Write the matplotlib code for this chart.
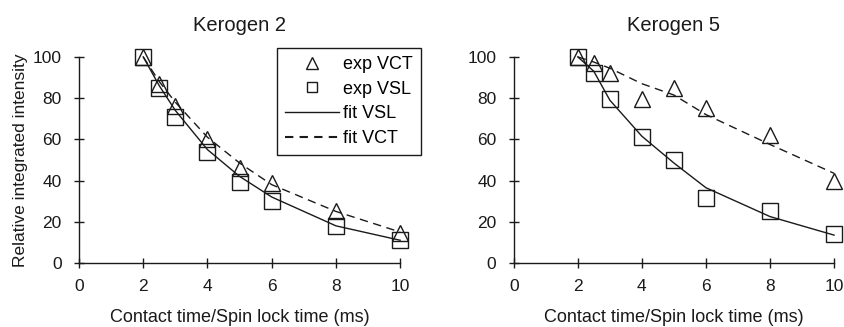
import matplotlib.pyplot as plt
from matplotlib.lines import Line2D

plt.rcParams['font.family'] = ['Liberation Sans', 'DejaVu Sans']

times = [2, 2.5, 3, 4, 5, 6, 8, 10]

# Kerogen 2
k2_exp_vct = [100, 87, 76, 60, 46, 39, 25, 14.5]
k2_exp_vsl = [100, 85, 71, 54, 39.5, 30, 18, 11]
k2_fit_vsl = [100, 86, 74, 55, 42, 32, 18, 11]
k2_fit_vct = [100, 88, 78, 61, 48.5, 38, 25, 15]

# Kerogen 5
k5_exp_vct = [100, 97, 92, 79.5, 85, 75, 62, 40]
k5_exp_vsl = [100, 92, 79.5, 61, 50, 31.5, 25, 14]
k5_fit_vsl = [100, 93, 79, 61.5, 48.5, 36.5, 22.5, 13.5]
k5_fit_vct = [100, 97.5, 94.5, 87, 81.5, 72, 57.5, 43.5]

ink = '#1a1a1a'

fig = plt.figure(figsize=(8.45, 3.27), dpi=100)
ax1 = fig.add_axes([0.0935, 0.196, 0.380, 0.630])
ax2 = fig.add_axes([0.608, 0.196, 0.379, 0.630])

panels = [
    (ax1, 'Kerogen 2', k2_exp_vct, k2_exp_vsl, k2_fit_vsl, k2_fit_vct),
    (ax2, 'Kerogen 5', k5_exp_vct, k5_exp_vsl, k5_fit_vsl, k5_fit_vct),
]

for ax, title, exp_vct, exp_vsl, fit_vsl, fit_vct in panels:
    ax.plot(times, fit_vsl, color=ink, lw=1.0, zorder=2, clip_on=False)
    ax.plot(times, fit_vct, color=ink, lw=1.0, dashes=(6, 4), zorder=2,
            clip_on=False)
    ax.plot(times, exp_vct, ls='none', marker='^', ms=12, mfc='none',
            mec=ink, mew=1.0, zorder=3, clip_on=False)
    ax.plot(times, exp_vsl, ls='none', marker='s', ms=11, mfc='none',
            mec=ink, mew=1.0, zorder=3, clip_on=False)
    ax.set_xlim(0, 10)
    ax.set_ylim(0, 100)
    ax.set_xticks([0, 2, 4, 6, 8, 10])
    ax.set_yticks([0, 20, 40, 60, 80, 100])
    for side in ['top', 'right']:
        ax.spines[side].set_visible(False)
    for side in ['left', 'bottom']:
        ax.spines[side].set_color(ink)
        ax.spines[side].set_linewidth(1.0)
    ax.tick_params(direction='inout', length=7, width=1.0, color=ink,
                   labelsize=12.5, labelcolor=ink)
    ax.tick_params(axis='x', pad=8)
    ax.tick_params(axis='y', pad=9)
    ax.set_title(title, fontsize=14.5, color=ink, pad=19)
    ax.set_xlabel('Contact time/Spin lock time (ms)', fontsize=13,
                  color=ink, labelpad=11)
    ax.patch.set_visible(False)

ax1.set_ylabel('Relative integrated intensity', fontsize=12.5, color=ink,
               labelpad=3)

handles = [
    Line2D([], [], ls='none', marker='^', ms=8, mfc='none', mec=ink, mew=1.0),
    Line2D([], [], ls='none', marker='s', ms=7.5, mfc='none', mec=ink, mew=1.0),
    Line2D([], [], color=ink, lw=1.0),
    Line2D([], [], color=ink, lw=1.5, dashes=(4, 3)),
]
labels = ['exp VCT', 'exp VSL', 'fit VSL', 'fit VCT']
leg = fig.legend(handles, labels, loc='upper right',
                 bbox_to_anchor=(0.498, 0.853), fontsize=13,
                 frameon=True, fancybox=False, framealpha=1,
                 edgecolor=ink, handlelength=3.0, handletextpad=0.2,
                 borderpad=0.45, labelspacing=0.42, borderaxespad=0)
leg.get_frame().set_linewidth(1.0)

fig.savefig('out.png', dpi=100)
